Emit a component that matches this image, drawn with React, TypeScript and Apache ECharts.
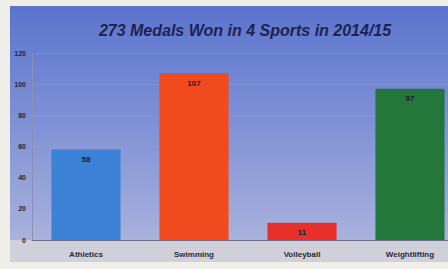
import React, { useEffect, useRef } from "react";
import * as echarts from "echarts";

const categories = ["Athletics", "Swimming", "Volleyball", "Weightlifting"];
const medals = [58, 107, 11, 97];
const barColors = ["#3b82d6", "#f04a1e", "#e8302a", "#24773a"];
const yTicks = [0, 20, 40, 60, 80, 100, 120];

export default function App() {
  const ref = useRef<HTMLDivElement>(null);
  useEffect(() => {
    if (!ref.current) return;
    const chart = echarts.init(ref.current, null, { renderer: "svg" });
    chart.setOption({
      animation: false,
      backgroundColor: "#efeee8",
      graphic: [
        {
          type: "rect",
          shape: { x: 10, y: 6, width: 470, height: 234 },
          style: {
            fill: new echarts.graphic.LinearGradient(0, 0, 0, 1, [
              { offset: 0, color: "#5c74cd" },
              { offset: 0.5, color: "#7f91d6" },
              { offset: 1, color: "#a9b2dc" },
            ]),
          },
          z: -10,
        },
        {
          type: "rect",
          shape: { x: 10, y: 240, width: 470, height: 22 },
          style: { fill: "#cfd0da" },
          z: -10,
        },
      ],
      title: {
        text: "273 Medals Won in 4 Sports in 2014/15",
        left: 240,
        textAlign: "center",
        top: 17,
        textStyle: {
          fontFamily: "Liberation Sans",
          fontSize: 16,
          fontWeight: "bold",
          fontStyle: "italic",
          color: "#1c2452",
        },
      },
      grid: { left: 32, top: 53, width: 432, bottom: 29, containLabel: false },
      xAxis: {
        type: "category",
        data: categories,
        axisLine: { lineStyle: { color: "#6a6f86" } },
        axisTick: { show: false },
        axisLabel: {
          fontFamily: "Liberation Sans",
          fontSize: 8,
          fontWeight: "bold",
          color: "#2a2a35",
          margin: 10,
        },
      },
      yAxis: {
        type: "value",
        min: yTicks[0],
        max: yTicks[yTicks.length - 1],
        interval: 20,
        axisLine: { show: true, lineStyle: { color: "#8a90b5" } },
        axisTick: { show: false },
        splitLine: { lineStyle: { color: "rgba(150,160,210,0.35)" } },
        axisLabel: {
          fontFamily: "Liberation Sans",
          fontSize: 7,
          fontWeight: "bold",
          color: "#1f2545",
          margin: 6,
        },
      },
      series: [
        {
          type: "bar",
          data: medals.map((v, i) => ({ value: v, itemStyle: { color: barColors[i] } })),
          barWidth: "64%",
          label: {
            show: true,
            position: "insideTop",
            distance: 6,
            fontFamily: "Liberation Sans",
            fontSize: 8,
            fontWeight: "bold",
            color: "#1a1a2a",
          },
        },
      ],
    });
    return () => chart.dispose();
  }, []);
  return (
    <div
      style={{
        position: "fixed",
        left: 0,
        top: 0,
        width: 448,
        height: 269,
        overflow: "hidden",
      }}
    >
      <div ref={ref} style={{ width: 480, height: 269 }} />
    </div>
  );
}
